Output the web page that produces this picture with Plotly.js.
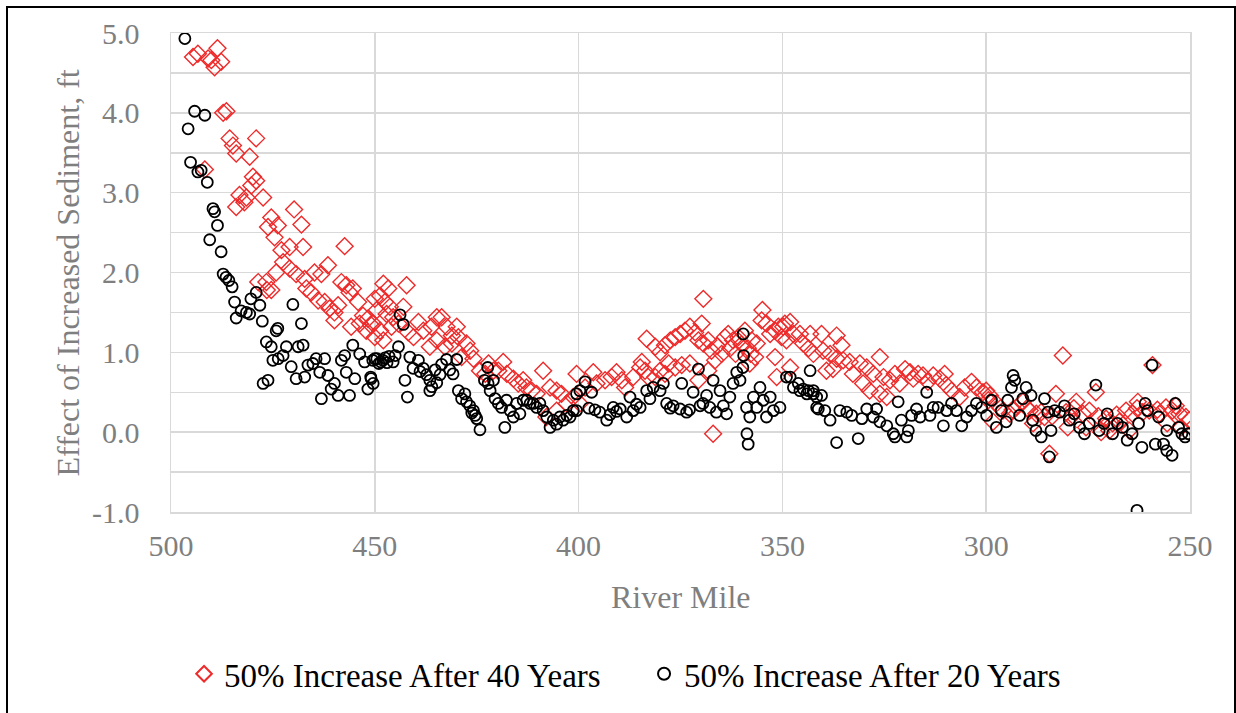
<!DOCTYPE html>
<html>
<head>
<meta charset="utf-8">
<script src="https://cdn.plot.ly/plotly-3.0.1.min.js"></script>
<style>
  html, body { margin: 0; padding: 0; background: #ffffff; }
  #wrap { position: relative; width: 1236px; height: 713px; overflow: hidden; }
  #chart { width: 1236px; height: 713px; }
  #frame { position: absolute; left: 6px; top: 6px; width: 1226px; height: 730px;
           border: 2px solid #000; pointer-events: none; }
</style>
</head>
<body>
<div id="wrap"><div id="chart"></div><div id="frame"></div></div>
<script>
// ---- Data: 50% Increase After 40 Years (red diamonds) ----
const mile40 = [
 493.4,494.6,488.6,490.1,487.7,489.3,490.9,487.2,486.4,485.6,479.1,484.8,484.0,480.7,491.7,479.9,479.1,483.2,481.5,482.0,
 484.0,477.4,480.3,469.8,468.0,475.4,476.2,473.8,474.6,472.9,470.9,467.6,457.4,472.5,470.9,469.3,467.2,464.8,463.1,461.5,
 476.6,475.4,474.2,466.8,465.6,463.9,462.3,461.1,459.9,459.0,458.2,457.0,456.2,455.4,454.1,452.9,451.7,450.0,459.9,455.8,
 453.7,452.1,450.9,478.6,476.5,
 447.9,446.7,442.2,448.7,447.5,446.3,443.0,449.5,450.4,448.7,447.1,445.5,444.2,450.0,447.9,445.9,441.8,440.5,439.3,438.1,
 436.1,434.8,433.6,432.4,431.1,429.9,429.5,434.8,436.5,432.8,431.1,427.5,426.6,428.7,425.8,424.2,422.9,422.1,420.9,419.7,
 418.5,417.6,416.0,414.8,413.6,412.8,411.5,410.3,408.7,407.0,405.4,404.2,402.9,401.3,400.5,399.7,407.9,405.4,
 396.4,398.4,395.6,393.5,391.9,390.7,389.4,388.6,386.6,384.9,383.7,382.9,381.2,380.0,378.8,377.9,376.3,374.7,372.7,384.5,
 383.3,381.2,380.0,378.8,377.5,376.3,375.1,373.9,372.7,371.4,369.8,369.4,370.6,369.4,368.2,367.4,366.5,364.9,364.1,363.3,
 362.1,360.8,359.2,357.5,356.3,355.1,354.9,353.9,353.0,351.8,351.0,350.2,349.4,351.8,351.4,356.7,358.0,367.0,368.2,370.6,
 366.0,362.8,361.5,360.0,358.5,357.8,
 348.1,349.8,347.3,345.7,343.2,340.4,336.7,335.5,344.9,343.6,342.4,340.0,338.3,336.7,335.1,333.5,331.0,329.3,326.1,327.7,
 325.2,323.6,322.4,321.2,319.9,318.7,317.9,316.7,315.5,314.3,313.0,311.4,310.2,309.8,308.5,306.5,305.3,303.6,302.4,300.8,
 299.5,349.0,348.1,339.2,337.6,332.7,330.2,328.6,326.1,324.4,
 300.0,299.1,297.5,295.9,294.2,292.6,291.0,289.3,287.7,285.7,284.5,282.9,281.2,280.4,279.2,277.9,276.3,274.7,273.1,271.8,
 270.6,269.0,267.3,265.7,264.1,262.8,261.6,260.0,259.2,257.5,255.9,254.3,252.6,251.0,250.2,298.3,288.5,280.0,275.5,269.8,
 264.9,255.6,252.2,296.5,293.5,290.0,286.5,283.8,278.5,272.5,268.0,263.0,258.0,253.5
];
const effect40 = [
 4.74,4.70,4.81,4.66,4.64,4.57,4.68,4.00,4.02,3.68,3.68,3.59,3.49,3.45,3.29,3.20,3.15,2.97,2.94,2.88,
 2.82,2.94,3.09,2.79,2.60,2.69,2.57,2.59,2.44,2.28,2.32,2.32,2.33,2.13,2.05,1.98,1.92,2.00,1.98,2.09,
 1.88,1.78,2.00,1.80,1.75,1.65,1.63,1.55,1.50,1.59,1.88,1.84,1.75,1.80,1.63,1.46,1.42,1.67,1.40,1.32,
 1.36,1.27,1.34,1.88,1.78,
 1.86,1.80,1.84,1.71,1.63,1.57,1.57,1.53,1.36,1.27,1.48,1.44,1.36,1.19,1.15,1.32,1.25,1.19,1.38,1.27,
 1.32,1.44,1.44,1.32,1.21,1.32,1.19,1.15,1.07,1.07,1.11,1.11,1.02,0.94,0.92,0.77,0.73,0.86,0.77,0.77,
 0.88,0.73,0.67,0.61,0.65,0.56,0.52,0.48,0.77,0.56,0.52,0.48,0.36,0.44,0.73,0.36,0.19,0.27,
 0.75,0.56,0.61,0.65,0.69,0.75,0.65,0.56,0.69,0.81,0.77,0.69,0.69,0.77,0.73,0.86,0.81,0.84,0.86,0.88,
 1.17,1.07,1.00,1.09,1.15,1.19,1.23,1.27,1.32,1.25,1.36,1.67,1.15,1.11,1.15,1.02,0.90,0.98,1.19,1.23,
 1.15,1.19,1.27,1.15,1.11,1.40,1.53,1.36,1.23,1.27,1.32,1.19,1.36,0.94,0.69,0.94,0.86,-0.02,0.77,0.65,
 1.08,1.05,0.98,1.10,1.05,0.98,
 1.38,1.32,1.23,1.23,1.23,1.23,1.21,1.09,1.11,1.05,0.98,1.02,0.98,0.92,0.90,0.88,0.86,0.81,0.94,0.73,
 0.69,0.65,0.73,0.61,0.79,0.75,0.67,0.73,0.71,0.63,0.71,0.67,0.73,0.59,0.52,0.44,0.56,0.63,0.56,0.50,
 0.40,1.15,0.81,0.77,0.79,0.73,0.61,0.52,0.48,0.44,
 0.52,0.46,0.36,0.27,0.23,0.31,0.38,0.27,0.23,0.19,-0.27,0.48,0.96,0.25,0.19,0.38,0.23,0.27,0.50,0.00,
 0.17,0.11,0.13,0.27,0.23,0.38,0.25,0.27,0.84,0.23,0.31,0.27,0.23,0.19,0.15,0.13,0.11,0.06,0.06,0.02,
 0.02,0.11,0.06,0.30,0.28,0.30,0.25,0.20,0.30,0.20,0.22,0.30,0.28,0.33
];

// ---- Data: 50% Increase After 20 Years (black circles) ----
const mile20 = [
 496.6,494.2,491.7,495.8,495.2,493.4,492.6,491.1,489.7,489.3,488.6,490.5,487.7,487.2,486.5,485.8,485.0,484.4,484.0,482.8,
 481.5,480.7,480.4,479.1,478.2,477.6,470.1,468.0,474.2,473.8,476.6,475.4,471.7,472.5,473.7,468.8,467.6,477.4,476.2,475.0,
 470.5,469.3,467.2,466.4,465.2,464.4,463.5,463.1,462.3,461.5,460.7,459.9,459.0,458.2,457.4,457.0,456.2,455.4,454.9,453.7,
 452.5,451.7,450.9,450.0,450.5,449.5,448.5,447.5,446.5,449.0,448.0,447.0,450.4,451.0,
 443.8,443.0,444.2,445.0,445.5,442.6,442.0,441.4,440.6,439.3,438.9,438.1,437.3,436.5,436.0,435.2,434.8,434.0,433.6,432.4,
 431.6,430.8,429.9,436.5,429.5,428.7,427.9,427.5,426.7,426.2,425.4,425.0,424.2,425.8,
 422.3,423.1,422.2,420.9,421.7,420.5,419.7,418.9,418.1,417.7,416.8,416.0,415.2,414.4,413.6,412.7,411.9,411.1,410.3,409.5,
 408.7,407.8,407.0,406.2,405.4,404.6,403.8,402.9,402.1,401.3,400.5,399.7,
 400.5,398.4,396.8,394.8,393.1,391.5,389.8,388.2,387.4,386.6,384.9,383.3,381.7,380.0,379.2,378.4,376.8,375.1,374.7,373.5,
 371.9,370.6,370.2,368.6,367.8,367.0,366.2,365.3,364.5,363.7,362.9,362.1,361.2,360.4,359.6,359.5,359.7,358.8,358.7,358.4,
 358.0,357.1,356.3,355.5,354.7,353.9,353.0,352.2,350.6,349.0,347.3,345.7,344.0,343.2,342.4,341.6,
 397.5,396.0,392.3,390.7,385.8,382.5,377.5,372.8,369.5,
 348.1,346.1,344.9,343.6,342.4,341.6,340.4,341.2,339.6,338.3,336.7,335.9,334.2,333.0,331.4,330.5,329.3,327.7,326.9,326.1,
 324.4,322.8,322.4,321.6,320.8,319.5,319.1,318.3,317.1,316.2,314.6,313.8,313.0,311.8,310.5,309.7,308.5,307.3,306.0,304.8,
 303.6,302.4,301.1,299.9,
 298.7,297.5,296.3,295.1,294.7,293.8,293.4,293.0,291.8,291.0,290.2,289.0,288.6,287.8,286.5,285.7,284.9,284.5,284.1,283.2,
 282.0,280.8,279.6,278.4,277.1,275.9,274.7,273.1,272.3,271.1,270.3,269.0,267.8,266.6,265.4,264.2,263.0,262.6,261.8,261.0,
 260.4,259.3,258.5,257.7,256.5,255.7,254.4,253.6,252.8,252.0,251.2,250.4,255.7
];
const effect20 = [
 4.93,4.02,3.97,3.80,3.38,3.26,3.28,3.13,2.80,2.76,2.59,2.41,2.26,1.98,1.94,1.90,1.82,1.63,1.43,1.52,
 1.50,1.48,1.67,1.75,1.59,1.39,1.60,1.36,1.27,1.30,1.13,1.07,1.07,0.96,0.92,1.07,1.09,0.61,0.65,0.90,
 0.82,0.67,0.69,0.84,0.86,0.92,0.75,0.42,0.92,0.71,0.54,0.61,0.46,0.90,0.96,0.75,0.46,1.09,0.67,0.98,
 0.88,0.54,0.67,0.92,0.90,0.92,0.88,0.93,0.95,0.86,0.90,0.87,0.61,0.69,
 1.47,1.35,1.07,0.96,0.88,0.65,0.44,0.94,0.80,0.90,0.76,0.80,0.72,0.65,0.57,0.78,0.62,0.72,0.85,0.91,
 0.78,0.73,0.91,0.52,0.52,0.42,0.48,0.38,0.33,0.24,0.21,0.17,0.03,0.27,
 0.81,0.65,0.61,0.65,0.52,0.42,0.36,0.31,0.06,0.40,0.27,0.19,0.36,0.23,0.40,0.40,0.36,0.36,0.31,0.36,
 0.27,0.19,0.06,0.15,0.10,0.19,0.15,0.21,0.19,0.27,0.27,0.52,
 0.48,0.63,0.50,0.25,0.15,0.31,0.29,0.19,0.44,0.27,0.31,0.52,0.56,0.52,0.61,0.36,0.33,0.29,0.61,0.25,
 0.50,0.79,0.33,0.46,0.31,0.65,0.25,0.52,0.33,0.23,0.44,0.61,0.75,0.65,1.23,0.96,0.81,0.31,-0.02,-0.15,
 0.19,0.44,0.31,0.56,0.40,0.19,0.44,0.27,0.31,0.69,0.56,0.52,0.48,0.77,0.52,0.31,
 0.30,0.28,0.22,0.26,0.35,0.42,0.30,0.28,0.36,
 0.69,0.61,0.54,0.52,0.48,0.44,0.46,0.29,0.27,0.15,-0.13,0.27,0.25,0.21,-0.08,0.17,0.29,0.19,0.29,0.13,
 0.08,-0.02,-0.06,0.38,0.15,-0.06,0.02,0.21,0.29,0.19,0.50,0.21,0.31,0.31,0.08,0.27,0.36,0.27,0.08,0.19,
 0.27,0.36,0.31,0.21,
 0.40,0.06,0.27,0.13,0.40,0.56,0.71,0.65,0.21,0.42,0.56,0.46,0.15,0.02,-0.06,0.42,0.25,-0.31,0.02,0.27,
 0.25,0.33,0.15,0.23,0.06,-0.02,0.11,0.59,0.02,0.11,0.23,-0.02,0.11,0.06,-0.10,-0.02,-0.98,0.11,-0.19,0.36,
 0.27,0.84,-0.15,0.19,-0.15,-0.23,-0.29,0.36,0.06,-0.02,-0.06,-0.02,0.02
];

const seriesNames = ['50% Increase After 40 Years', '50% Increase After 20 Years'];
const xTicks = [500, 450, 400, 350, 300, 250];
const yTicks = [-1.0, -0.5, 0.0, 0.5, 1.0, 1.5, 2.0, 2.5, 3.0, 3.5, 4.0, 4.5, 5.0];
const yTickText = ['-1.0', '', '0.0', '', '1.0', '', '2.0', '', '3.0', '', '4.0', '', '5.0'];
const xTitle = 'River Mile';
const yTitle = 'Effect of Increased Sediment, ft';

const FONT = 'Liberation Serif, Times New Roman, serif';
const GRID = '#d9d9d9';
const GREY = '#7f7f7f';

const traces = [
  {
    type: 'scatter', mode: 'markers', name: seriesNames[0],
    x: mile40, y: effect40,
    marker: { symbol: 'diamond-open', size: 13, color: '#ee2a2a', line: { color: '#ee2a2a', width: 1.4 } },
    hoverinfo: 'x+y'
  },
  {
    type: 'scatter', mode: 'markers', name: seriesNames[1],
    x: mile20, y: effect20,
    marker: { symbol: 'circle-open', size: 11, color: '#000000', line: { color: '#000000', width: 1.8 } },
    hoverinfo: 'x+y'
  }
];

const layout = {
  width: 1236, height: 713,
  paper_bgcolor: '#ffffff', plot_bgcolor: '#ffffff',
  margin: { l: 171, r: 46, t: 33, b: 201, autoexpand: false },
  font: { family: FONT, color: GREY, size: 30 },
  showlegend: true,
  legend: {
    orientation: 'h', xref: 'container', yref: 'container',
    x: 0.1489, xanchor: 'left', y: 0.055, yanchor: 'middle',
    font: { family: FONT, size: 33, color: '#000000' },
    itemsizing: 'constant', entrywidth: 415, bgcolor: 'rgba(0,0,0,0)'
  },
  xaxis: {
    range: [500, 250], autorange: false,
    tickmode: 'array', tickvals: xTicks, ticktext: xTicks.map(String),
    showgrid: true, gridcolor: GRID, gridwidth: 1.5,
    showline: true, linecolor: GRID, linewidth: 1.5, mirror: true,
    zeroline: false, ticks: '', ticklabelstandoff: 6,
    tickfont: { family: FONT, size: 30, color: GREY }
  },
  yaxis: {
    range: [-1, 5], autorange: false,
    tickmode: 'array', tickvals: yTicks, ticktext: yTickText,
    showgrid: true, gridcolor: GRID, gridwidth: 1.5,
    showline: true, linecolor: GRID, linewidth: 1.5, mirror: true,
    zeroline: false, ticks: '', ticklabelstandoff: 24,
    tickfont: { family: FONT, size: 30, color: GREY }
  },
  annotations: [
    { text: xTitle, xref: 'paper', yref: 'paper', x: 0.5, y: -0.1775, xanchor: 'center', yanchor: 'middle',
      showarrow: false, font: { family: FONT, size: 32, color: GREY } },
    { text: yTitle, xref: 'paper', yref: 'paper', x: -0.1011, y: 0.5, xanchor: 'center', yanchor: 'middle',
      textangle: -90, showarrow: false, font: { family: FONT, size: 32, color: GREY } }
  ]
};

Plotly.newPlot('chart', traces, layout, { displayModeBar: false, staticPlot: true });
</script>
</body>
</html>
